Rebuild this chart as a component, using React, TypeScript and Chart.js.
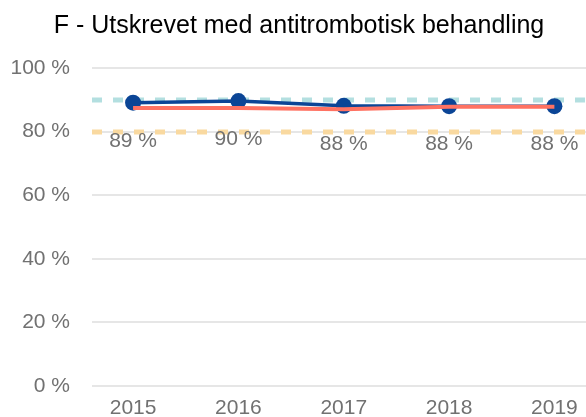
import React, { useEffect, useRef } from "react";
import { Chart, registerables } from "chart.js";

Chart.register(...registerables);

const years = ["2015", "2016", "2017", "2018", "2019"];
const unitValues = [89.1, 89.6, 88.1, 88.0, 88.0];
const nationalValues = [87.4, 87.4, 87.0, 87.8, 87.8];
const targetHigh = 90;
const targetLow = 80;
const yTicks = [0, 20, 40, 60, 80, 100];
const titleText = "F - Utskrevet med antitrombotisk behandling";

const GRAY = "#717171";
const FONT = "'Liberation Sans', Arial, sans-serif";

const refLinesPlugin = {
  id: "refLines",
  beforeDatasetsDraw(chart: any) {
    const { ctx, chartArea, scales } = chart;
    const draw = (v: number, color: string) => {
      const y = Math.round(scales.y.getPixelForValue(v));
      ctx.save();
      ctx.strokeStyle = color;
      ctx.lineWidth = 5;
      ctx.setLineDash([10, 11]);
      ctx.beginPath();
      ctx.moveTo(chartArea.left, y);
      ctx.lineTo(chartArea.right, y);
      ctx.stroke();
      ctx.restore();
    };
    draw(targetHigh, "#b3dfe0");
    draw(targetLow, "#f9d9a0");
  },
};

const labelPlugin = {
  id: "valueLabels",
  afterDatasetsDraw(chart: any) {
    const { ctx } = chart;
    const meta = chart.getDatasetMeta(1);
    ctx.save();
    ctx.font = `21px ${FONT}`;
    ctx.fillStyle = GRAY;
    ctx.textAlign = "center";
    ctx.textBaseline = "alphabetic";
    meta.data.forEach((pt: any, i: number) => {
      ctx.fillText(`${Math.round(unitValues[i])} %`, pt.x, pt.y + 44);
    });
    ctx.restore();
  },
};

const titlePlugin = {
  id: "customTitle",
  afterDraw(chart: any) {
    const { ctx } = chart;
    ctx.save();
    ctx.font = `25px ${FONT}`;
    ctx.fillStyle = "#000";
    ctx.textAlign = "center";
    ctx.textBaseline = "alphabetic";
    ctx.fillText(titleText, chart.width / 2 + 6, 33);
    ctx.restore();
  },
};

export default function App() {
  const ref = useRef<HTMLCanvasElement>(null);
  useEffect(() => {
    document.body.style.margin = "0";
    const chart = new Chart(ref.current!, {
      type: "line",
      data: {
        datasets: [
          {
            label: "Nasjonalt",
            data: nationalValues.map((v, i) => ({ x: i, y: v })),
            borderColor: "#ff7262",
            borderWidth: 4,
            pointRadius: 0,
            tension: 0,
            clip: false,
          },
          {
            label: "Enhet",
            data: unitValues.map((v, i) => ({ x: i, y: v })),
            borderColor: "#0b4596",
            backgroundColor: "#0b4596",
            borderWidth: 3.5,
            pointRadius: 8,
            pointBorderWidth: 0,
            tension: 0,
            clip: false,
          },
        ],
      },
      plugins: [refLinesPlugin, labelPlugin, titlePlugin],
      options: {
        responsive: false,
        animation: false,
        events: [],
        layout: { autoPadding: false, padding: { top: 68, left: 0, right: 0, bottom: 0 } },
        plugins: {
          legend: { display: false },
          tooltip: { enabled: false },
          title: { display: false },
        },
        scales: {
          x: {
            type: "linear",
            min: -0.39,
            max: 4.3,
            grid: { display: false },
            border: { display: false },
            afterBuildTicks(scale: any) {
              scale.ticks = years.map((_, i) => ({ value: i }));
            },
            afterFit(scale: any) {
              scale.height = 31;
              scale.paddingLeft = 0;
              scale.paddingRight = 0;
              scale.paddingTop = 0;
              scale.paddingBottom = 0;
            },
            ticks: {
              color: GRAY,
              font: { family: FONT, size: 21 },
              padding: 2,
              maxRotation: 0,
              autoSkip: false,
              callback: (v: any) => years[v] ?? "",
            },
          },
          y: {
            min: 0,
            max: 100,
            grid: { color: "#e6e6e6", lineWidth: 2, drawTicks: false },
            border: { display: false },
            afterBuildTicks(scale: any) {
              scale.ticks = yTicks.map((v) => ({ value: v }));
            },
            afterFit(scale: any) {
              scale.width = 92;
              scale.paddingLeft = 0;
              scale.paddingRight = 0;
              scale.paddingTop = 0;
              scale.paddingBottom = 0;
            },
            ticks: {
              color: GRAY,
              font: { family: FONT, size: 21 },
              padding: 22,
              callback: (v: any) => `${v} %`,
            },
          },
        },
      },
    } as any);
    return () => chart.destroy();
  }, []);
  return (
    <div style={{ position: "absolute", left: 0, top: 0, width: 586, height: 417 }}>
      <canvas ref={ref} width={586} height={417} style={{ width: 586, height: 417 }} />
    </div>
  );
}
